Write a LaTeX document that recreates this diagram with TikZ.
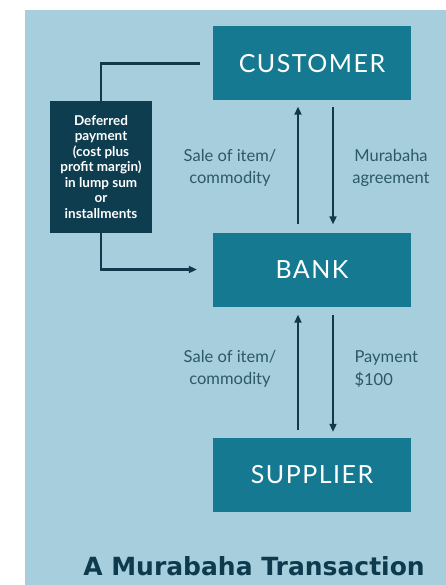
\documentclass[tikz,border=0pt]{standalone}
\usepackage{fontspec}
\setmainfont{Lato}
\newfontfamily\titlefont{DejaVu Sans}
\usepackage{xcolor}
\usetikzlibrary{arrows.meta,positioning}
\definecolor{bgblue}{RGB}{166,206,220}
\definecolor{boxteal}{RGB}{22,121,146}
\definecolor{navybox}{RGB}{14,61,80}
\definecolor{linedark}{RGB}{16,58,76}
\definecolor{lbltext}{RGB}{44,88,104}
\definecolor{titledark}{RGB}{14,58,78}

\begin{document}
\begin{tikzpicture}[y=-1pt,x=1pt,
	box/.style={fill=boxteal, text=white, minimum width=198pt, minimum height=74pt, inner sep=0pt, font=\fontsize{25}{28}\selectfont\addfontfeatures{LetterSpace=6}},
	paybox/.style={fill=navybox, text=white, minimum width=102pt, minimum height=132pt, inner sep=0pt, align=center, font=\bfseries\fontsize{13.5}{15.5}\selectfont},
	link/.style={draw=linedark, line width=2.4pt},
	flow/.style={link, -{Triangle[length=8pt,width=7pt]}},
	lbl/.style={text=lbltext, align=center, font=\fontsize{16.5}{22.5}\selectfont}]

	\useasboundingbox (0,0) rectangle (446,585);
	\fill[bgblue] (25,10) rectangle (446,585);

	\node[box] (customer) at (312,63.5) {CUSTOMER};
	\node[box] (bank) at (312,269.5) {BANK};
	\node[box] (supplier) at (312,475) {SUPPLIER};
	\node[paybox] (deferred) at (101,167) {Deferred\\payment\\(cost plus\\profit margin)\\in lump sum\\or\\installments};

	\draw[link, shorten <=13pt] (customer.west) -| (deferred.north);
	\draw[flow, shorten >=16pt] (deferred.south) |- (bank.west);

	\draw[flow, shorten <=8pt, shorten >=6pt] ([xshift=-14pt]bank.north) -- ([xshift=-14pt]customer.south);
	\draw[flow, shorten <=6pt, shorten >=8pt] ([xshift=21pt]customer.south) -- ([xshift=21pt]bank.north);
	\draw[flow, shorten <=8pt, shorten >=8pt] ([xshift=-14pt]supplier.north) -- ([xshift=-14pt]bank.south);
	\draw[flow, shorten <=8pt, shorten >=6pt] ([xshift=21pt]bank.south) -- ([xshift=21pt]supplier.north);

	\node[lbl] (saleup) at (230,168) {Sale of item/\\commodity};
	\node[lbl] (agree) at (391,168) {Murabaha\\agreement};
	\node[lbl] (salelow) at (230,369) {Sale of item/\\commodity};
	\node[lbl, anchor=west, align=left] (pay) at (351,369) {Payment\\\$100};

	\node[text=titledark, font=\titlefont\bfseries\fontsize{25}{28}\selectfont] (title) at (254,566) {A Murabaha Transaction};
\end{tikzpicture}
\end{document}
